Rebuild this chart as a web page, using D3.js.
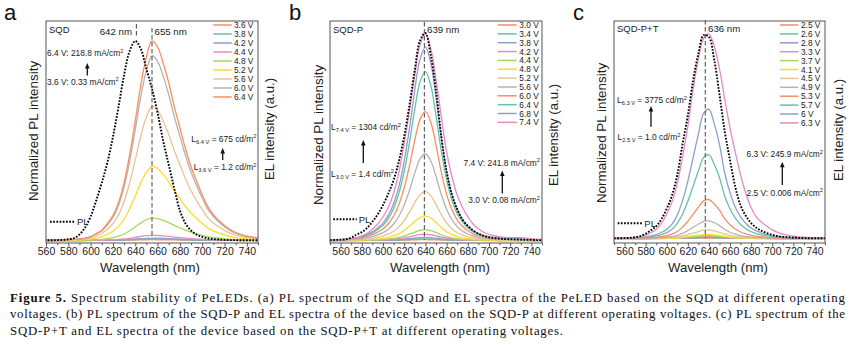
<!DOCTYPE html>
<html>
<head>
<meta charset="utf-8">
<script src="https://cdn.jsdelivr.net/npm/d3@7"></script>
<style>
  body { margin: 0; background: #fff; }
  svg { display: block; font-family: Arial, "Liberation Sans", sans-serif; }
  .caption text { font-family: "Liberation Serif", "Times New Roman", Times, serif; }
</style>
</head>
<body>
<svg id="fig" width="855" height="345"></svg>
<script>
'use strict';

// wavelength grid shared by every spectrum (nm)
var wavelength = [550, 555, 560, 565, 570, 575, 580, 585, 590, 595,
  600, 605, 610, 615, 620, 625, 630, 635, 640, 645,
  650, 655, 660, 665, 670, 675, 680, 685, 690, 695,
  700, 705, 710, 715, 720, 725, 730, 735, 740, 745, 750];

var majorTicks = [560, 580, 600, 620, 640, 660, 680, 700, 720, 740];
var minorTicksA = [570, 590, 610, 630, 650, 670, 690, 710, 730, 750];
var minorTicksBC = [550, 570, 590, 610, 630, 650, 670, 690, 710, 730, 750];

var palette = ['#fc8d62', '#66c2a5', '#8da0cb', '#e78ac3', '#a6d854', '#ffd92f', '#e5c494', '#b3b3b3'];

// (a) SQD
var plA = [0.001, 0.001, 0.001, 0.001, 0.002, 0.003, 0.006, 0.012, 0.03, 0.065,
  0.12, 0.20, 0.29, 0.39, 0.52, 0.67, 0.83, 0.95, 1.00, 0.96,
  0.86, 0.76, 0.64, 0.50, 0.38, 0.26, 0.15, 0.085, 0.05, 0.029,
  0.018, 0.011, 0.007, 0.005, 0.003, 0.002, 0.002, 0.001, 0.001, 0.001, 0.001];
var elShapeA = [0.001, 0.002, 0.002, 0.002, 0.003, 0.004, 0.005, 0.006, 0.008, 0.012,
  0.020, 0.035, 0.052, 0.085, 0.125, 0.19, 0.29, 0.43, 0.60, 0.78,
  0.92, 1.00, 0.97, 0.89, 0.79, 0.67, 0.565, 0.46, 0.37, 0.297,
  0.23, 0.17, 0.13, 0.10, 0.075, 0.055, 0.04, 0.03, 0.022, 0.017, 0.013];
var voltsA = ['3.6 V', '3.8 V', '4.2 V', '4.4 V', '4.8 V', '5.2 V', '5.6 V', '6.0 V', '6.4 V'];
var peaksA = [0.004, 0.008, 0.012, 0.026, 0.113, 0.372, 0.673, 0.926, 1.0];

// (b) SQD-P
var plB = [0.002, 0.003, 0.004, 0.006, 0.014, 0.028, 0.040, 0.060, 0.090, 0.125,
  0.17, 0.225, 0.29, 0.38, 0.50, 0.65, 0.82, 0.96, 0.995, 0.89,
  0.72, 0.50, 0.33, 0.22, 0.15, 0.10, 0.07, 0.048, 0.032, 0.022,
  0.015, 0.011, 0.009, 0.007, 0.006, 0.005, 0.004, 0.003, 0.003, 0.002, 0.002];
var elShapeB = [0.003, 0.004, 0.005, 0.007, 0.010, 0.015, 0.022, 0.032, 0.045, 0.065,
  0.09, 0.13, 0.19, 0.28, 0.41, 0.58, 0.78, 0.94, 1.00, 0.92,
  0.74, 0.53, 0.36, 0.24, 0.16, 0.11, 0.075, 0.052, 0.037, 0.027,
  0.020, 0.016, 0.013, 0.011, 0.010, 0.010, 0.011, 0.009, 0.007, 0.005, 0.004];
var elTopB = [0.002, 0.003, 0.004, 0.005, 0.008, 0.013, 0.022, 0.035, 0.055, 0.08,
  0.115, 0.16, 0.23, 0.33, 0.47, 0.63, 0.80, 0.95, 1.00, 0.93,
  0.78, 0.60, 0.43, 0.31, 0.22, 0.16, 0.115, 0.08, 0.057, 0.04,
  0.03, 0.023, 0.018, 0.015, 0.014, 0.014, 0.014, 0.011, 0.008, 0.006, 0.005];
var voltsB = ['3.0 V', '3.4 V', '3.8 V', '4.2 V', '4.4 V', '4.8 V', '5.2 V', '5.6 V', '6.0 V', '6.4 V', '6.8 V', '7.4 V'];
var peaksB = [0.004, 0.008, 0.015, 0.03, 0.052, 0.117, 0.234, 0.416, 0.618, 0.81, 0.927, 0.99];

// (c) SQD-P+T
var plC = [0.001, 0.001, 0.002, 0.003, 0.006, 0.012, 0.023, 0.040, 0.060, 0.095,
  0.145, 0.21, 0.31, 0.46, 0.60, 0.77, 0.90, 0.99, 0.98, 0.87,
  0.70, 0.52, 0.38, 0.25, 0.16, 0.11, 0.075, 0.052, 0.037, 0.026,
  0.018, 0.012, 0.008, 0.006, 0.004, 0.003, 0.002, 0.001, 0.001, 0.001, 0.001];
var elShapeC = [0.002, 0.002, 0.003, 0.004, 0.006, 0.009, 0.013, 0.020, 0.030, 0.046,
  0.07, 0.11, 0.18, 0.29, 0.44, 0.62, 0.80, 0.96, 0.99, 0.88,
  0.72, 0.50, 0.35, 0.24, 0.165, 0.115, 0.08, 0.058, 0.042, 0.030,
  0.022, 0.016, 0.012, 0.009, 0.007, 0.006, 0.005, 0.004, 0.003, 0.003, 0.002];
var elTopC = [0.001, 0.001, 0.002, 0.003, 0.005, 0.009, 0.016, 0.028, 0.045, 0.075,
  0.12, 0.18, 0.27, 0.40, 0.55, 0.73, 0.88, 0.98, 1.00, 0.94,
  0.83, 0.68, 0.54, 0.42, 0.31, 0.22, 0.15, 0.105, 0.08, 0.06,
  0.042, 0.03, 0.021, 0.015, 0.011, 0.008, 0.006, 0.005, 0.004, 0.003, 0.003];
var voltsC = ['2.5 V', '2.6 V', '2.8 V', '3.3 V', '3.7 V', '4.1 V', '4.5 V', '4.9 V', '5.3 V', '5.7 V', '6 V', '6.3 V'];
var peaksC = [0.002, 0.004, 0.006, 0.01, 0.014, 0.02, 0.042, 0.087, 0.191, 0.411, 0.635, 0.995];

var captionLines = [
  ['Figure 5.', ' Spectrum stability of PeLEDs. (a) PL spectrum of the SQD and EL spectra of the PeLED based on the SQD at different operating'],
  ['', 'voltages. (b) PL spectrum of the SQD-P and EL spectra of the device based on the SQD-P at different operating voltages. (c) PL spectrum of the'],
  ['', 'SQD-P+T and EL spectra of the device based on the SQD-P+T at different operating voltages.']
];
var captionWidths = [835, 835, 553];

var panels = [
  {
    letter: 'a', lx: 4, name: 'SQD', x0: 46, x1: 258, domain: [560, 750], minor: minorTicksA,
    yBase: 240.5, yPeak: 41, pl: plA, shape: elShapeA, top: elShapeA, volts: voltsA, peaks: peaksA,
    leg: { x0: 213.3, x1: 231.7, tx: 234, y0: 25, dy: 9 },
    plLeg: { x0: 50, x1: 75, y: 221.7 },
    yTitleX: 37.5, yTitleY: 131, elTitleX: 273.5, elTitleY: 129, xTitleX: 150,
    lines: [{ nm: 641, y0: 24, y1: 37 }, { nm: 655, y0: 28, y1: 236 }],
    texts: [
      { x: 132, y: 35, anchor: 'end', size: 9.7, parts: [{ t: '642 nm' }] },
      { x: 154.5, y: 35, size: 9.7, parts: [{ t: '655 nm' }] },
      { x: 47, y: 56, parts: [{ t: '6.4 V: 218.8 mA/cm' }, { t: '2', sup: true }] },
      { x: 47, y: 84.5, parts: [{ t: '3.6 V: 0.33 mA/cm' }, { t: '2', sup: true }] },
      { x: 256.5, y: 141.5, anchor: 'end', parts: [{ t: 'L' }, { t: '6.4 V', sub: true }, { t: ' = 675 cd/m' }, { t: '2', sup: true }] },
      { x: 256.5, y: 170, anchor: 'end', parts: [{ t: 'L' }, { t: '3.6 V', sub: true }, { t: ' = 1.2 cd/m' }, { t: '2', sup: true }] }
    ],
    arrows: [{ x: 87.3, y0: 75.5, y1: 63 }, { x: 222.7, y0: 160, y1: 148 }]
  },
  {
    letter: 'b', lx: 289, name: 'SQD-P', x0: 330, x1: 542, domain: [550, 750], minor: minorTicksBC,
    yBase: 240.5, yPeak: 32, pl: plB, shape: elShapeB, top: elTopB, volts: voltsB, peaks: peaksB,
    leg: { x0: 497.7, x1: 516.7, tx: 519.3, y0: 25, dy: 8.85 },
    plLeg: { x0: 333.3, x1: 356.7, y: 219.3 },
    yTitleX: 323, yTitleY: 135, elTitleX: 558, elTitleY: 135, xTitleX: 440,
    lines: [{ nm: 639, y0: 22, y1: 240 }],
    texts: [
      { x: 427, y: 32.5, size: 9.7, parts: [{ t: '639 nm' }] },
      { x: 331, y: 130, parts: [{ t: 'L' }, { t: '7.4 V', sub: true }, { t: ' = 1304 cd/m' }, { t: '2', sup: true }] },
      { x: 331, y: 176.5, parts: [{ t: 'L' }, { t: '3.0 V', sub: true }, { t: ' = 1.4 cd/m' }, { t: '2', sup: true }] },
      { x: 540, y: 165.5, anchor: 'end', parts: [{ t: '7.4 V: 241.8 mA/cm' }, { t: '2', sup: true }] },
      { x: 540, y: 203, anchor: 'end', parts: [{ t: '3.0 V: 0.08 mA/cm' }, { t: '2', sup: true }] }
    ],
    arrows: [{ x: 363.3, y0: 163, y1: 140 }, { x: 502.3, y0: 193.5, y1: 170.5 }]
  },
  {
    letter: 'c', lx: 573, name: 'SQD-P+T', x0: 614, x1: 825, domain: [550, 750], minor: minorTicksBC,
    yBase: 238.5, yPeak: 33, pl: plC, shape: elShapeC, top: elTopC, volts: voltsC, peaks: peaksC,
    leg: { x0: 780, x1: 798.3, tx: 801, y0: 25, dy: 8.9 },
    plLeg: { x0: 617.7, x1: 642.3, y: 223.3 },
    yTitleX: 606, yTitleY: 133, elTitleX: 843, elTitleY: 130, xTitleX: 718,
    lines: [{ nm: 636.5, y0: 20, y1: 238 }],
    texts: [
      { x: 708, y: 31.5, size: 9.7, parts: [{ t: '636 nm' }] },
      { x: 617, y: 103, parts: [{ t: 'L' }, { t: '6.3 V', sub: true }, { t: ' = 3775 cd/m' }, { t: '2', sup: true }] },
      { x: 617.5, y: 140, parts: [{ t: 'L' }, { t: '2.5 V', sub: true }, { t: ' = 1.0 cd/m' }, { t: '2', sup: true }] },
      { x: 823, y: 157, anchor: 'end', parts: [{ t: '6.3 V: 245.9 mA/cm' }, { t: '2', sup: true }] },
      { x: 823, y: 195.5, anchor: 'end', parts: [{ t: '2.5 V: 0.006 mA/cm' }, { t: '2', sup: true }] }
    ],
    arrows: [{ x: 651, y0: 126.7, y1: 106 }, { x: 782.3, y0: 185, y1: 161.7 }]
  }
];

var svg = d3.select('#fig');
var FRAME_TOP = 21, FRAME_BOTTOM = 243;

/**
 * Text with optional sub/superscript pieces
 */
function richText(g, spec) {
  var t = g.append('text')
    .attr('x', spec.x).attr('y', spec.y)
    .attr('font-size', spec.size || 8.4)
    .attr('text-anchor', spec.anchor || 'start')
    .attr('fill', '#222');
  var shift = 0;
  spec.parts.forEach(function(p) {
    var target = p.sub ? 2.2 : (p.sup ? -3.3 : 0);
    var s = t.append('tspan').text(p.t).attr('dy', target - shift);
    if (p.sub || p.sup) s.attr('font-size', '68%');
    shift = target;
  });
}

function arrow(g, a) {
  g.append('line')
    .attr('x1', a.x).attr('x2', a.x)
    .attr('y1', a.y0).attr('y2', a.y1 + 4)
    .attr('stroke', '#111').attr('stroke-width', 1.3);
  g.append('path')
    .attr('d', 'M' + a.x + ',' + a.y1 + 'L' + (a.x - 2.3) + ',' + (a.y1 + 5.5) + 'L' + (a.x + 2.3) + ',' + (a.y1 + 5.5) + 'Z')
    .attr('fill', '#111');
}

function drawPanel(p, idx) {
  var g = svg.append('g');
  var x = d3.scaleLinear().domain(p.domain).range([p.x0, p.x1]);
  var y = d3.scaleLinear().domain([0, 1]).range([p.yBase, p.yPeak]);

  var clipId = 'clip' + idx;
  svg.append('clipPath').attr('id', clipId)
    .append('rect')
    .attr('x', p.x0).attr('y', FRAME_TOP)
    .attr('width', p.x1 - p.x0).attr('height', FRAME_BOTTOM - FRAME_TOP);

  var line = d3.line()
    .x(function(d) { return x(d[0]); })
    .y(function(d) { return y(d[1]); })
    .curve(d3.curveCatmullRom.alpha(0.5));

  var plot = g.append('g').attr('clip-path', 'url(#' + clipId + ')');

  // EL spectra, lowest voltage first
  p.peaks.forEach(function(pk, i) {
    var shape = (i === p.peaks.length - 1) ? p.top : p.shape;
    var pts = wavelength.map(function(w, j) { return [w, shape[j] * pk]; });
    plot.append('path')
      .attr('d', line(pts))
      .attr('fill', 'none')
      .attr('stroke', palette[i % palette.length])
      .attr('stroke-width', 1.3);
  });

  // PL spectrum
  plot.append('path')
    .attr('d', line(wavelength.map(function(w, j) { return [w, p.pl[j]]; })))
    .attr('fill', 'none')
    .attr('stroke', '#000')
    .attr('stroke-width', 1.9)
    .attr('stroke-dasharray', '1.7,1.5');

  // peak markers
  p.lines.forEach(function(l) {
    g.append('line')
      .attr('x1', x(l.nm)).attr('x2', x(l.nm))
      .attr('y1', l.y0).attr('y2', l.y1)
      .attr('stroke', '#444').attr('stroke-width', 1)
      .attr('stroke-dasharray', '4.5,2.5');
  });

  // frame
  g.append('rect')
    .attr('x', p.x0).attr('y', FRAME_TOP)
    .attr('width', p.x1 - p.x0).attr('height', FRAME_BOTTOM - FRAME_TOP)
    .attr('fill', 'none').attr('stroke', '#555').attr('stroke-width', 1);

  // x axis: major + minor ticks pointing out
  var axis = g.append('g')
    .attr('transform', 'translate(0,' + FRAME_BOTTOM + ')')
    .call(d3.axisBottom(x).tickValues(majorTicks).tickSize(3.5).tickSizeOuter(0).tickPadding(1.5));
  axis.select('.domain').remove();
  axis.selectAll('.tick line').attr('stroke', '#555');
  axis.selectAll('.tick text')
    .attr('font-size', 10.5).attr('font-family', 'Arial, "Liberation Sans", sans-serif').attr('fill', '#222');
  var minor = g.append('g')
    .attr('transform', 'translate(0,' + FRAME_BOTTOM + ')')
    .call(d3.axisBottom(x).tickValues(p.minor).tickSize(2.2).tickSizeOuter(0).tickFormat(''));
  minor.select('.domain').remove();
  minor.selectAll('.tick line').attr('stroke', '#555');

  // titles
  g.append('text')
    .attr('x', p.xTitleX).attr('y', 271.5)
    .attr('text-anchor', 'middle').attr('font-size', 13.2).attr('fill', '#222')
    .text('Wavelength (nm)');
  g.append('text')
    .attr('transform', 'translate(' + p.yTitleX + ',' + p.yTitleY + ') rotate(-90)')
    .attr('text-anchor', 'middle').attr('font-size', 13.4).attr('fill', '#222')
    .text('Normalized PL intensity');
  g.append('text')
    .attr('transform', 'translate(' + p.elTitleX + ',' + p.elTitleY + ') rotate(-90)')
    .attr('text-anchor', 'middle').attr('font-size', 13.2).attr('fill', '#222')
    .text('EL intensity (a.u.)');

  // panel letter and sample name
  g.append('text')
    .attr('x', p.lx).attr('y', 20)
    .attr('font-size', 22).attr('fill', '#111')
    .text(p.letter);
  g.append('text')
    .attr('x', p.x0 + 3).attr('y', idx === 2 ? 31.5 : 32.5)
    .attr('font-size', 9.5).attr('fill', '#222')
    .text(p.name);

  // voltage legend
  p.volts.forEach(function(v, i) {
    var ly = p.leg.y0 + i * p.leg.dy;
    g.append('line')
      .attr('x1', p.leg.x0).attr('x2', p.leg.x1)
      .attr('y1', ly).attr('y2', ly)
      .attr('stroke', palette[i % palette.length]).attr('stroke-width', 1.5);
    g.append('text')
      .attr('x', p.leg.tx).attr('y', ly + 3)
      .attr('font-size', 8.3).attr('fill', '#222')
      .text(v);
  });

  // PL legend
  g.append('line')
    .attr('x1', p.plLeg.x0).attr('x2', p.plLeg.x1)
    .attr('y1', p.plLeg.y).attr('y2', p.plLeg.y)
    .attr('stroke', '#000').attr('stroke-width', 1.9).attr('stroke-dasharray', '1.7,1.5');
  g.append('text')
    .attr('x', p.plLeg.x1 + 2).attr('y', p.plLeg.y + 3.5)
    .attr('font-size', 9.5).attr('fill', '#222')
    .text('PL');

  p.texts.forEach(function(t) { richText(g, t); });
  p.arrows.forEach(function(a) { arrow(g, a); });
}

panels.forEach(drawPanel);

// caption
var cap = svg.append('g').attr('class', 'caption')
  .attr('font-size', 12.8).attr('fill', '#111');
captionLines.forEach(function(parts, i) {
  var t = cap.append('text').attr('x', 10).attr('y', 301.5 + i * 16.6)
    .attr('textLength', captionWidths[i]).attr('lengthAdjust', 'spacing');
  if (parts[0]) t.append('tspan').attr('font-weight', 'bold').text(parts[0]);
  t.append('tspan').text(parts[1]);
});
</script>
</body>
</html>
